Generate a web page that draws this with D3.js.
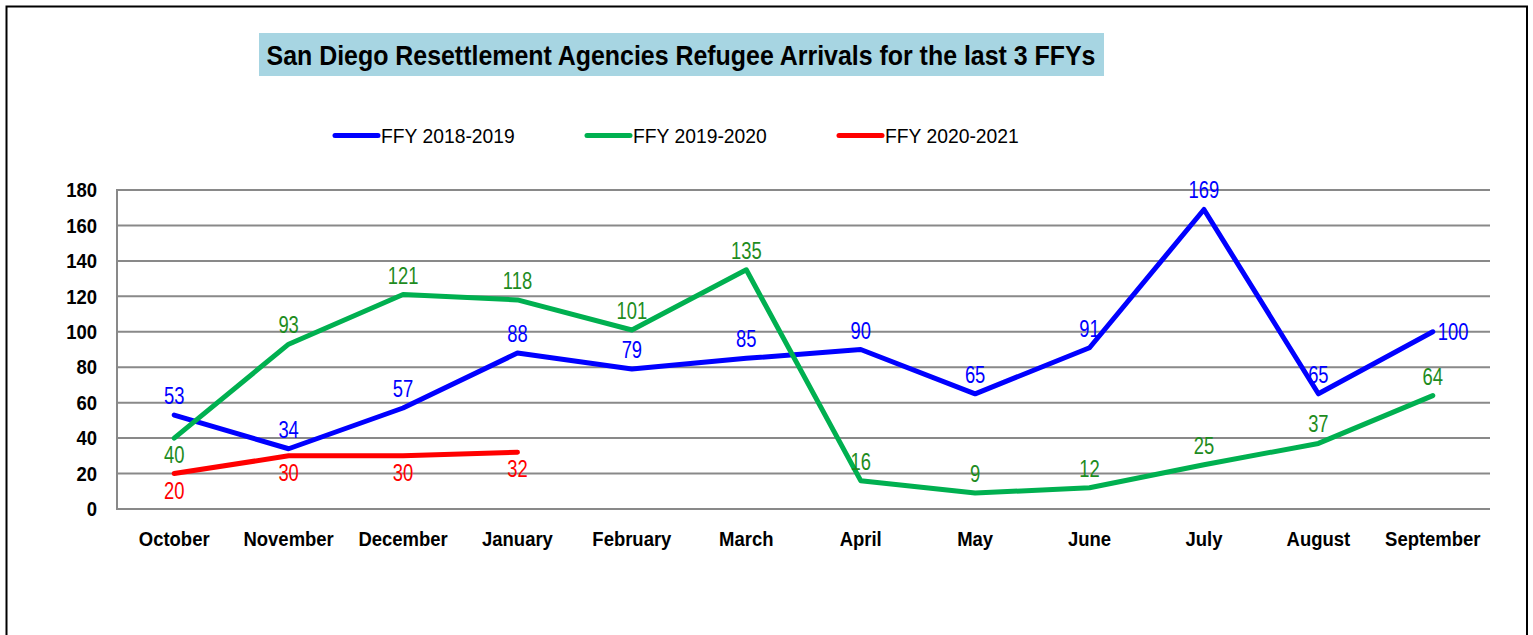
<!DOCTYPE html>
<html><head><meta charset="utf-8">
<script src="https://cdn.jsdelivr.net/npm/d3@7"></script>
<style>
body{margin:0;background:#fff;}
svg{display:block;}
</style></head>
<body>
<svg id="c" width="1533" height="635"></svg>
<script>
const months = ["October","November","December","January","February","March","April","May","June","July","August","September"];
const seriesNames = ["FFY 2018-2019","FFY 2019-2020","FFY 2020-2021"];
const ffy1819 = [53,34,57,88,79,85,90,65,91,169,65,100];
const ffy1920 = [40,93,121,118,101,135,16,9,12,25,37,64];
const ffy2021 = [20,30,30,32];
const yTicks = [0,20,40,60,80,100,120,140,160,180];
const title = "San Diego Resettlement Agencies Refugee Arrivals for the last 3 FFYs";

const lineColors = ["#0000FF","#00B050","#FF0000"];
const labelColors = ["#0000FF","#1E8C1E","#FF0000"];
// label placement: "a" above, "b" below, "r" right
const place = [
  ["a","a","a","a","a","a","a","a","a","a","a","r"],
  ["b","a","a","a","a","a","a","a","a","a","a","a"],
  ["b","b","b","b"]
];
const series = [ffy1819, ffy1920, ffy2021];

const svg = d3.select("#c");
const FN = "'Liberation Sans Narrow','Arial Narrow','Liberation Sans',Arial,sans-serif";

function ntext(g, x, y, s, str){
  return g.append("text").attr("transform",`translate(${x},${y}) scale(${s},1)`).text(str);
}

// outer border
svg.append("rect").attr("x",6.5).attr("y",6.5).attr("width",1520.5).attr("height",640)
  .attr("fill","none").attr("stroke","#000").attr("stroke-width",2);

// title
svg.append("rect").attr("x",259).attr("y",33).attr("width",845).attr("height",43).attr("fill","#A7D5E2");
ntext(svg, 681, 65, 0.89, title).attr("text-anchor","middle")
  .style("font-family",FN).style("font-weight","bold").style("font-size","28px").attr("fill","#000");

const L=117, R=1490, T=190, B=509;
const x = d3.scaleBand().domain(months).range([L,R]);
const cx = m => x(m) + x.bandwidth()/2;
const y = d3.scaleLinear().domain([0,180]).range([B,T]);

// grid
svg.append("g").selectAll("line").data(yTicks).join("line")
  .attr("x1",L).attr("x2",R).attr("y1",d=>y(d)).attr("y2",d=>y(d))
  .attr("stroke","#898989").attr("stroke-width",2);
svg.append("line").attr("x1",L).attr("x2",L).attr("y1",T-1).attr("y2",B+1)
  .attr("stroke","#898989").attr("stroke-width",2);

// y axis
const AS = 0.88;
const yAxis = d3.axisLeft(y).tickValues(yTicks).tickSize(0).tickPadding(20);
const ga = svg.append("g").attr("transform",`translate(${L},0)`).call(yAxis);
ga.select(".domain").remove();
ga.selectAll("text").attr("x",-20/AS).attr("transform",`scale(${AS},1)`)
  .style("font-family",FN).style("font-weight","bold").style("font-size","21px").attr("fill","#000");

// x axis
const xAxis = d3.axisBottom(x).tickSize(0).tickPadding(22);
const gx = svg.append("g").attr("transform",`translate(0,${B})`).call(xAxis);
gx.select(".domain").remove();
gx.selectAll("text").attr("transform",`scale(${AS},1)`)
  .style("font-family",FN).style("font-weight","bold").style("font-size","21px").attr("fill","#000");

// lines
const line = d3.line().x((d,i)=>cx(months[i])).y(d=>y(d));
series.forEach((s,k)=>{
  svg.append("path").datum(s).attr("d",line).attr("fill","none")
    .attr("stroke",lineColors[k]).attr("stroke-width",5).attr("stroke-linejoin","round").attr("stroke-linecap","round");
});

// labels
const LS = 0.8;
series.forEach((s,k)=>{
  svg.append("g").selectAll("text").data(s).join("text")
    .attr("transform",(d,i)=>{
      const p=place[k][i];
      const tx = cx(months[i]) + (p==="r"?5:0);
      const ty = y(d) + (p==="a"?-11:p==="b"?25:8);
      return `translate(${tx},${ty}) scale(${LS},1)`;
    })
    .attr("text-anchor",(d,i)=>place[k][i]==="r"?"start":"middle")
    .style("font-family",FN).style("font-size","23px").attr("fill",labelColors[k])
    .text(d=>d);
});

// legend
const legX = [332,584,836];
seriesNames.forEach((n,k)=>{
  svg.append("line").attr("x1",legX[k]+3).attr("x2",legX[k]+46).attr("y1",135.5).attr("y2",135.5)
    .attr("stroke",lineColors[k]).attr("stroke-width",5).attr("stroke-linecap","round");
  ntext(svg, legX[k]+49, 143, 0.92, n)
    .style("font-family",FN).style("font-size","21px").attr("fill","#000");
});
</script>
</body></html>
